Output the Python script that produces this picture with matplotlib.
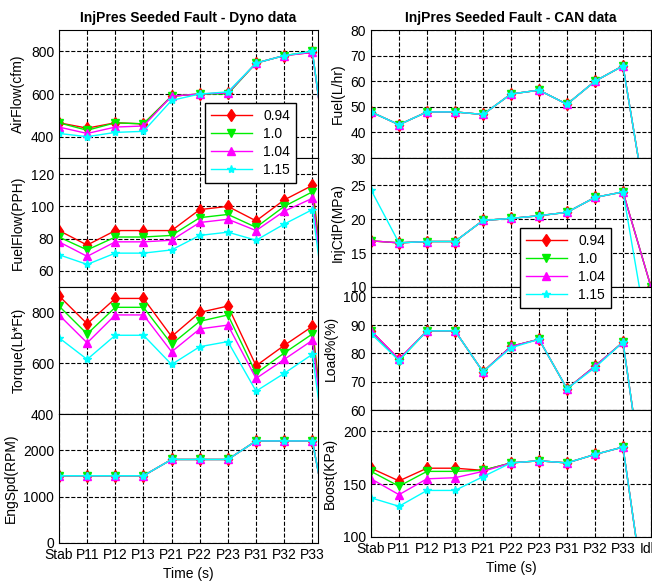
import matplotlib
matplotlib.use("Agg")
import matplotlib.pyplot as plt

plt.rcParams["font.family"] = ["Liberation Sans", "DejaVu Sans"]
plt.rcParams["font.size"] = 9

labels = ["Stab", "P11", "P12", "P13", "P21", "P22", "P23", "P31", "P32", "P33", "Idle"]
series = ["0.94", "1.0", "1.04", "1.15"]
colors = ["red", "#00ee00", "magenta", "cyan"]
markers = ["d", "v", "^", "*"]

airflow = [
    [465, 440, 465, 460, 590, 600, 605, 745, 780, 795, -180],
    [465, 430, 465, 460, 590, 600, 600, 745, 780, 800, -180],
    [445, 415, 445, 450, 590, 600, 605, 745, 780, 795, -180],
    [415, 400, 420, 425, 570, 600, 610, 745, 780, 800, -180],
]
fuelflow = [
    [85, 76, 85, 85, 85, 98, 100, 91, 104, 113, -37],
    [81, 73, 81, 81, 82, 93, 95, 87, 100, 109, -35],
    [78, 69, 78, 78, 79, 90, 92, 85, 97, 105, -33],
    [70, 64, 71, 71, 73, 82, 84, 79, 89, 98, -32],
]
torque = [
    [865, 755, 855, 855, 705, 800, 825, 590, 670, 745, -250],
    [825, 715, 820, 820, 675, 765, 790, 560, 640, 715, -230],
    [790, 680, 790, 790, 645, 735, 750, 540, 615, 690, -210],
    [700, 615, 710, 710, 595, 665, 685, 490, 560, 635, -190],
]
engspd = [[1450, 1450, 1450, 1450, 1800, 1800, 1800, 2200, 2200, 2200, -1000]] * 4

fuel = [[48, 43, 48, 48, 47, 55, 56.5, 51, 60, 66, 0]] * 4
injctlp_base = [16.5, 16.7, 16.7, 19.8, 20.1, 20.5, 21, 23.2, 24]
injctlp = [[16.8] + injctlp_base + [10]] * 3 + [[24.3] + injctlp_base + [0]]
load = [
    [88, 78, 88, 88, 73.5, 82.5, 85, 67.5, 75.5, 84, 15],
    [88, 77.5, 88, 88, 73.5, 82.5, 85, 67.5, 75.5, 84, 15],
    [88, 78, 88, 88, 73.5, 82.5, 85, 67.5, 75.5, 84, 15],
    [87, 77.5, 88, 88, 73.5, 82, 85, 67.5, 75, 84, 15],
]
boost = [
    [165, 153, 165, 165, 163, 170, 172, 170, 178, 185, 0],
    [162, 148, 162, 162, 163, 170, 172, 170, 178, 185, 0],
    [155, 140, 155, 156, 162, 170, 172, 170, 178, 185, 0],
    [137, 129, 144, 144, 157, 170, 172, 170, 178, 185, 0],
]

W, H = 652, 581
fig = plt.figure(figsize=(W / 100, H / 100), dpi=100)
x = list(range(1, 12))


def panel(px, pw, top, bot, data, ylim, yticks, ylabel, xlim, bottom=False):
    ax = fig.add_axes([px / W, 1 - bot / H, pw / W, (bot - top) / H])
    for d, c, m, s in zip(data, colors, markers, series):
        ax.plot(x, d, color=c, marker=m, markersize=6, lw=1, label=s)
    ax.set_yticks(yticks)
    ax.set_xticks(x)
    ax.set_xlim(*xlim)
    ax.set_ylim(*ylim)
    ax.grid(True, ls="--", color="black", lw=0.8)
    ax.set_ylabel(ylabel, fontsize=10)
    ax.tick_params(direction="in", length=0, labelsize=10)
    if bottom:
        ax.set_xticklabels(labels)
        ax.set_xlabel("Time (s)", fontsize=10)
    else:
        ax.set_xticklabels([])
    return ax


lxl = (1, 10.2)
a1 = panel(59, 259, 30, 158, airflow, (300, 900), [400, 600, 800], "AirFlow(cfm)", lxl)
a1.set_title("InjPres Seeded Fault - Dyno data", fontsize=10, fontweight="bold")
panel(59, 259, 158, 287, fuelflow, (50, 130), [60, 80, 100, 120], "FuelFlow(PPH)", lxl)
panel(59, 259, 287, 414, torque, (400, 900), [400, 600, 800], "Torque(Lb*Ft)", lxl)
panel(59, 259, 414, 543, engspd, (0, 2780), [0, 1000, 2000], "EngSpd(RPM)", lxl, bottom=True)

rxl = (1, 11)
b1 = panel(371, 280, 30, 158, fuel, (30, 80), [30, 40, 50, 60, 70, 80], "Fuel(L/hr)", rxl)
b1.set_title("InjPres Seeded Fault - CAN data", fontsize=10, fontweight="bold")
panel(371, 280, 158, 287, injctlp, (10, 29), [10, 15, 20, 25], "InjCtlP(MPa)", rxl)
panel(371, 280, 287, 410, load, (60, 103.5), [60, 70, 80, 90, 100], "Load%(%)", rxl)
panel(371, 280, 410, 537, boost, (100, 220), [100, 150, 200], "Boost(KPa)", rxl, bottom=True)

h, l = a1.get_legend_handles_labels()
for loc in [(205, 103), (520, 228)]:
    lg = fig.legend(h, l, loc="upper left", bbox_to_anchor=(loc[0] / W, 1 - loc[1] / H),
                    fancybox=False, edgecolor="black", framealpha=1,
                    fontsize=10, handlelength=3, borderaxespad=0, labelspacing=0.3)
    lg.set_zorder(10)

fig.savefig("out.png", dpi=100)
